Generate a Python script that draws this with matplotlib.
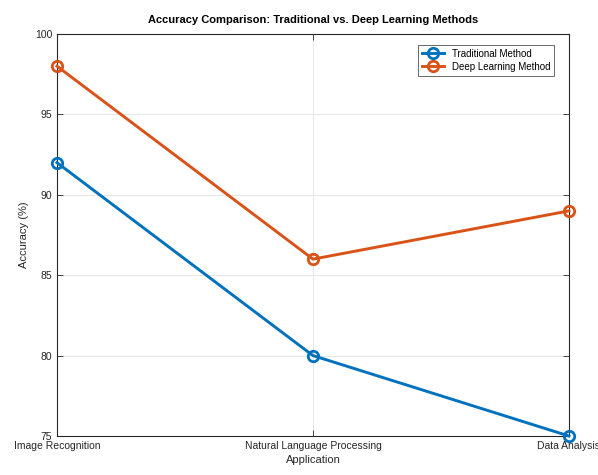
import matplotlib
matplotlib.use("Agg")
import matplotlib.pyplot as plt

plt.rcParams['font.family'] = ['Liberation Sans', 'DejaVu Sans']

# -----------------------------
# DATA
# -----------------------------
applications = ["Image Recognition", "Natural Language Processing", "Data Analysis"]
traditional = [92, 80, 75]
deep_learning = [98, 86, 89]

x = list(range(1, len(applications) + 1))

fig = plt.figure(figsize=(5.98, 4.75), dpi=100)
ax = fig.add_axes([0.0953, 0.0821, 0.8562, 0.8463])

ax.plot(x, traditional, color='#0072BD', linewidth=2.1, marker='o',
        markersize=7.5, markerfacecolor='none', markeredgewidth=2,
        label="Traditional Method", zorder=3, clip_on=False)
ax.plot(x, deep_learning, color='#D95319', linewidth=2.1, marker='o',
        markersize=7.5, markerfacecolor='none', markeredgewidth=2,
        label="Deep Learning Method", zorder=3, clip_on=False)

ax.set_xlim(1, 3)
ax.set_ylim(75, 100)
ax.set_xticks(x)
ax.set_xticklabels(applications)
ax.set_yticks([75, 80, 85, 90, 95, 100])

ax.tick_params(direction='in', top=True, right=True, labelsize=7.5,
               colors='#262626', length=4, width=0.6)
for s in ax.spines.values():
    s.set_color('#262626')
    s.set_linewidth(0.8)

ax.grid(True, color='#e6e6e6', linewidth=0.7)
ax.set_axisbelow(True)

ax.set_xlabel("Application", fontsize=8, color='#262626', labelpad=3)
ax.set_ylabel("Accuracy (%)", fontsize=8, color='#262626')
ax.set_title("Accuracy Comparison: Traditional vs. Deep Learning Methods",
             fontsize=8, fontweight='bold', pad=8)

leg = ax.legend(loc='upper right', fontsize=7, frameon=True, fancybox=False,
                edgecolor='#262626', handlelength=2.2, borderpad=0.4,
                labelspacing=0.3, bbox_to_anchor=(0.98, 0.985))
leg.get_frame().set_linewidth(0.6)

fig.savefig("out.png", dpi=100)
